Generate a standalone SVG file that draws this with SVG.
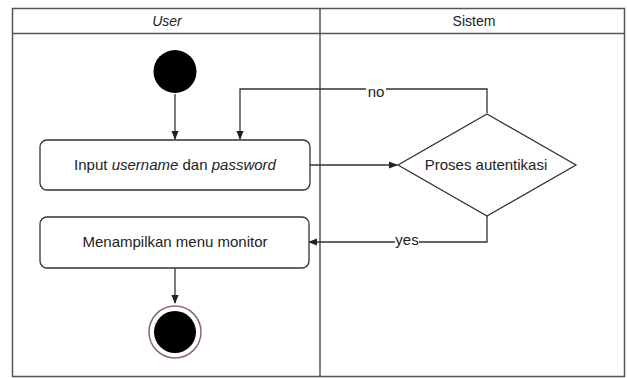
<svg xmlns="http://www.w3.org/2000/svg" width="627" height="378" viewBox="0 0 627 378">
  <style>
    .lane { fill: none; stroke: #555; stroke-width: 1.5; }
    .node { fill: #fff; stroke: #333; stroke-width: 1.3; }
    .edge { fill: none; stroke: #333; stroke-width: 1.3; }
    .lbl { font-family: "Liberation Sans", Arial, sans-serif; font-size: 15px; fill: #222; }
    .hdr { font-family: "Liberation Sans", Arial, sans-serif; font-size: 14px; fill: #222; }
  </style>
  <defs>
    <marker id="arrow" viewBox="0 0 10 10" refX="9" refY="5" markerWidth="7" markerHeight="7" orient="auto">
      <path d="M0,1 L10,5 L0,9 Z" fill="#222"/>
    </marker>
  </defs>
  <rect width="627" height="378" fill="#fff"/>

  <!-- swimlanes -->
  <g id="lanes">
    <rect class="lane" x="12.5" y="8.5" width="612" height="368"/>
    <line class="lane" x1="12.5" y1="33.5" x2="624.5" y2="33.5"/>
    <line class="lane" x1="320" y1="8.5" x2="320" y2="376.5"/>
    <text class="hdr" x="167" y="25.5" text-anchor="middle" font-style="italic">User</text>
    <text class="hdr" x="474" y="25.5" text-anchor="middle">Sistem</text>
  </g>

  <!-- connectors -->
  <g id="connectors">
    <line class="edge" x1="175" y1="94" x2="175" y2="139" marker-end="url(#arrow)"/>
    <polyline class="edge" points="487,113 487,89 240,89 240,139" marker-end="url(#arrow)"/>
    <line class="edge" x1="310" y1="165" x2="397" y2="165" marker-end="url(#arrow)"/>
    <polyline class="edge" points="487,216 487,242 309,242" marker-end="url(#arrow)"/>
    <line class="edge" x1="175" y1="268" x2="175" y2="303" marker-end="url(#arrow)"/>
    <rect x="366" y="86" width="20" height="12" fill="#fff"/>
    <text class="lbl" x="376" y="97" text-anchor="middle">no</text>
    <rect x="395" y="236" width="24" height="10" fill="#fff"/>
    <text class="lbl" x="407" y="245" text-anchor="middle">yes</text>
  </g>

  <!-- start -->
  <g id="start">
    <circle cx="175" cy="71.5" r="21.5" fill="#000"/>
  </g>

  <!-- input credentials -->
  <g id="input">
    <rect class="node" x="40" y="140" width="270" height="50" rx="7"/>
    <text class="lbl" x="175" y="170" text-anchor="middle">Input <tspan font-style="italic">username</tspan> dan <tspan font-style="italic">password</tspan></text>
  </g>

  <!-- authentication decision -->
  <g id="auth">
    <polygon class="node" points="487,114 576,165 487,216 398,165"/>
    <text class="lbl" x="486" y="170" text-anchor="middle">Proses autentikasi</text>
  </g>

  <!-- show menu -->
  <g id="menu">
    <rect class="node" x="40" y="217" width="269" height="51" rx="7"/>
    <text class="lbl" x="175" y="247" text-anchor="middle">Menampilkan menu monitor</text>
  </g>

  <!-- end -->
  <g id="end">
    <circle cx="175" cy="332" r="26" fill="#fff" stroke="#8a6a6a" stroke-width="1.5"/>
    <circle cx="175" cy="332" r="21" fill="#000"/>
  </g>
</svg>
